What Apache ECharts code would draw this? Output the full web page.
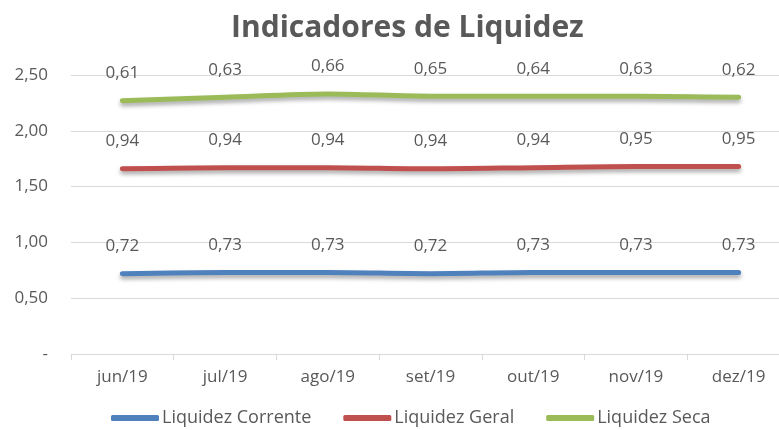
<!DOCTYPE html>
<html>
<head>
<meta charset="utf-8">
<script src="https://cdn.jsdelivr.net/npm/echarts@6/dist/echarts.min.js"></script>
<style>
  html, body { margin: 0; padding: 0; background: #fff; }
  #chart { width: 779px; height: 430px; }
</style>
</head>
<body>
<div id="chart"></div>
<script>
const months = ['jun/19', 'jul/19', 'ago/19', 'set/19', 'out/19', 'nov/19', 'dez/19']
const liqCorrente = [0.72, 0.73, 0.73, 0.72, 0.73, 0.73, 0.73]
const liqGeral = [0.94, 0.94, 0.94, 0.94, 0.94, 0.95, 0.95]
const liqSeca = [0.61, 0.63, 0.66, 0.65, 0.64, 0.63, 0.62]

const font = '"Open Sans", "Liberation Sans", sans-serif'
const txt = '#595959'
const fmt = v => v.toFixed(2).replace('.', ',')

const chart = echarts.init(document.getElementById('chart'))

const makeSeries = (name, data, color) => ({
  name,
  type: 'line',
  stack: 'total',
  data,
  smooth: 0.3,
  symbol: 'circle',
  symbolSize: 0,
  showSymbol: true,
  lineStyle: {
    width: 5,
    color,
    cap: 'round',
    shadowColor: 'rgba(0,0,0,0.35)',
    shadowBlur: 4,
    shadowOffsetY: 3,
  },
  itemStyle: { color },
  label: {
    show: true,
    position: 'top',
    distance: 19,
    color: txt,
    fontSize: 17,
    fontFamily: font,
    formatter: p => fmt(p.value),
  },
  labelLayout: { hideOverlap: false },
})

chart.setOption({
  animation: false,
  title: {
    text: 'Indicadores de Liquidez',
    left: 226,
    top: 8,
    textStyle: {
      fontFamily: font,
      fontWeight: 'bold',
      fontSize: 30,
      color: txt,
    },
  },
  legend: {
    bottom: -2,
    left: 106,
    icon: 'roundRect',
    itemWidth: 48,
    itemHeight: 6,
    itemGap: 32,
    textStyle: { color: txt, fontSize: 18, fontFamily: font, padding: [0, 0, 0, -2] },
    data: ['Liquidez Corrente', 'Liquidez Geral', 'Liquidez Seca'],
  },
  grid: {
    left: 71,
    top: 75,
    width: 719,
    height: 279,
    outerBoundsMode: 'none',
  },
  xAxis: {
    type: 'category',
    data: months,
    boundaryGap: true,
    axisLine: { lineStyle: { color: '#d9d9d9', width: 1 } },
    axisTick: { show: true, length: 6, lineStyle: { color: '#d9d9d9' } },
    axisLabel: { color: txt, fontSize: 17, fontFamily: font, margin: 15 },
  },
  yAxis: {
    type: 'value',
    min: 0,
    max: 2.5,
    interval: 0.5,
    axisLine: { show: false },
    axisTick: { show: false },
    splitLine: { lineStyle: { color: '#d9d9d9', width: 1 } },
    axisLabel: {
      color: txt,
      fontSize: 17,
      fontFamily: font,
      margin: 23,
      formatter: v => (v === 0 ? '-' : fmt(v)),
    },
  },
  series: [
    makeSeries('Liquidez Corrente', liqCorrente, '#4f81bd'),
    makeSeries('Liquidez Geral', liqGeral, '#c0504d'),
    makeSeries('Liquidez Seca', liqSeca, '#9bbb59'),
  ],
})
</script>
</body>
</html>
